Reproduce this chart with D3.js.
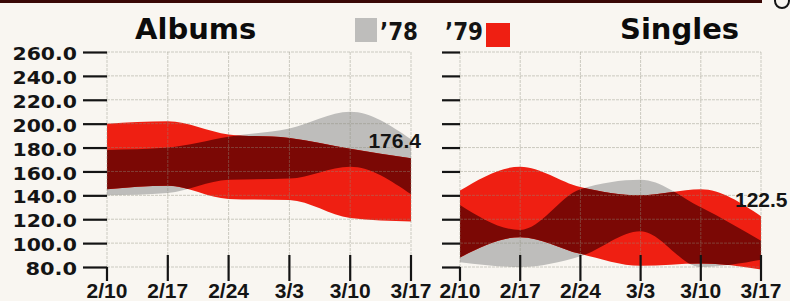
<!DOCTYPE html>
<html>
<head>
<meta charset="utf-8">
<script src="https://cdn.jsdelivr.net/npm/d3@7"></script>
<style>
  body { margin: 0; background: #f9f6f1; }
  svg { display: block; }
</style>
</head>
<body>
<svg id="chart" width="790" height="301"></svg>
<script>
// weeks along the bottom, y ticks on the left
const weeks = ['2/10', '2/17', '2/24', '3/3', '3/10', '3/17'];
const yTicks = [80, 100, 120, 140, 160, 180, 200, 220, 240, 260];

// Albums bands (low / high edge per week)
const albums78Low  = [140, 142, 153, 154, 164, 141];
const albums78High = [178, 180, 189, 196, 210, 187];
const albums79Low  = [145, 148, 137, 136, 121, 118];
const albums79High = [200, 202, 191, 188, 179, 171];

// Singles bands
const singles78Low  = [84, 80, 89, 110, 80, 86];
const singles78High = [132, 111, 145, 153, 130, 102];
const singles79Low  = [88, 105, 91, 81, 83, 78];
const singles79High = [144, 164, 147, 140, 145, 122.5];

const yearLabels = ['\u201978', '\u201979'];
const endLabels = [176.4, 122.5];

// Colors
const bgColor = '#f9f6f1';
const grayColor = '#bebdbb';
const redColor = '#ef1f12';
const darkColor = '#7b0805';
const inkColor = '#141414';

const svg = d3.select('#chart');
svg.append('rect').attr('width', 790).attr('height', 301).attr('fill', bgColor);

// top rule of the page + corner mark
svg.append('rect').attr('x', 0).attr('y', 0).attr('width', 762).attr('height', 3).attr('fill', '#3a0806');
svg.append('circle').attr('cx', 782).attr('cy', 1).attr('r', 7)
    .attr('fill', 'none').attr('stroke', inkColor).attr('stroke-width', 2);

const y = d3.scaleLinear().domain([80, 260]).range([267, 52]);

function drawPanel(opts) {
    const x = d3.scalePoint().domain(weeks).range(opts.range);
    const g = svg.append('g');

    const rows = weeks.map((w, i) => ({
        w: w,
        lo78: opts.lo78[i], hi78: opts.hi78[i],
        lo79: opts.lo79[i], hi79: opts.hi79[i]
    }));

    const area78 = d3.area()
        .x(d => x(d.w)).y0(d => y(d.lo78)).y1(d => y(d.hi78))
        .curve(d3.curveMonotoneX);
    const area79 = d3.area()
        .x(d => x(d.w)).y0(d => y(d.lo79)).y1(d => y(d.hi79))
        .curve(d3.curveMonotoneX);

    // clip for the overlap of both years
    svg.append('clipPath').attr('id', opts.id)
        .append('path').attr('d', area78(rows));

    g.append('path').attr('d', area78(rows)).attr('fill', grayColor);
    g.append('path').attr('d', area79(rows)).attr('fill', redColor);
    g.append('path').attr('d', area79(rows)).attr('fill', darkColor)
        .attr('clip-path', `url(#${opts.id})`);

    // grid
    const grid = g.append('g')
        .attr('stroke', 'rgba(140,140,125,0.42)')
        .attr('stroke-width', 1)
        .attr('stroke-dasharray', '3,1');
    grid.selectAll('.h').data(yTicks).enter().append('line')
        .attr('x1', opts.range[0]).attr('x2', opts.range[1])
        .attr('y1', d => y(d)).attr('y2', d => y(d));
    grid.selectAll('.v').data(weeks).enter().append('line')
        .attr('x1', d => x(d)).attr('x2', d => x(d))
        .attr('y1', y(260)).attr('y2', y(80));

    // y axis ticks (labels only on the albums panel)
    const yAxis = d3.axisLeft(y)
        .tickValues(yTicks)
        .tickSize(opts.tickLen)
        .tickPadding(6)
        .tickFormat(opts.showLabels ? d3.format('.1f') : '');
    const ga = g.append('g')
        .attr('transform', `translate(${opts.range[0]},0)`)
        .call(yAxis);
    ga.select('.domain').remove();
    ga.selectAll('line').attr('stroke', inkColor).attr('stroke-width', 2.2);
    ga.selectAll('text')
        .attr('font-family', 'DejaVu Sans')
        .attr('font-weight', 'bold')
        .attr('font-size', 17)
        .attr('fill', inkColor)
        .attr('dy', '0.45em')
        .each(function (d) {
            const s = d3.select(this).text();
            if (s) d3.select(this).attr('textLength', s.length * 12.9).attr('lengthAdjust', 'spacingAndGlyphs');
        });

    // x ticks and labels
    g.selectAll('.xt').data(weeks).enter().append('line')
        .attr('x1', d => x(d)).attr('x2', d => x(d))
        .attr('y1', (d, i) => i === 0 ? y(80) : y(80) - 12)
        .attr('y2', y(80) + 14)
        .attr('stroke', inkColor).attr('stroke-width', 2.2);
    g.selectAll('.xl').data(weeks).enter().append('text')
        .attr('x', d => x(d)).attr('y', 298)
        .attr('text-anchor', 'middle')
        .attr('font-family', '"Liberation Sans Narrow", "Liberation Sans", sans-serif')
        .attr('font-weight', 'bold')
        .attr('font-size', 21)
        .attr('fill', inkColor)
        .text(d => d);

    // title
    g.append('text')
        .attr('x', opts.titleX).attr('y', 39)
        .attr('font-family', 'DejaVu Sans')
        .attr('font-weight', 'bold')
        .attr('font-size', 29)
        .attr('fill', '#0c0c0c')
        .text(opts.title);

    // end value label
    g.append('text')
        .attr('x', x(weeks[weeks.length - 1]) + opts.labelDx)
        .attr('y', y(opts.endLabel) + opts.labelDy)
        .attr('text-anchor', opts.labelAnchor)
        .attr('font-family', 'Liberation Sans')
        .attr('font-weight', 'bold')
        .attr('font-size', 21)
        .attr('fill', inkColor)
        .text(opts.endLabel);
}

drawPanel({
    id: 'clipAlbums', range: [107, 411], title: 'Albums', titleX: 135,
    lo78: albums78Low, hi78: albums78High, lo79: albums79Low, hi79: albums79High,
    tickLen: 24, showLabels: true,
    endLabel: endLabels[0], labelDx: 10, labelDy: -4, labelAnchor: 'end'
});

drawPanel({
    id: 'clipSingles', range: [460, 761], title: 'Singles', titleX: 620,
    lo78: singles78Low, hi78: singles78High, lo79: singles79Low, hi79: singles79High,
    tickLen: 18, showLabels: false,
    endLabel: endLabels[1], labelDx: -26, labelDy: -9, labelAnchor: 'start'
});

// legend
const legend = svg.append('g');
legend.append('rect').attr('x', 355).attr('y', 18).attr('width', 22).attr('height', 24).attr('fill', grayColor);
legend.selectAll('.yl').data(yearLabels).enter().append('text')
    .attr('x', (d, i) => i === 0 ? 380 : 445).attr('y', 40)
    .attr('font-family', 'DejaVu Sans').attr('font-weight', 'bold')
    .attr('font-size', 24).attr('fill', inkColor)
    .attr('textLength', 38).attr('lengthAdjust', 'spacingAndGlyphs')
    .text(d => d);
legend.append('rect').attr('x', 486).attr('y', 23).attr('width', 24).attr('height', 24).attr('fill', redColor);
</script>
</body>
</html>
